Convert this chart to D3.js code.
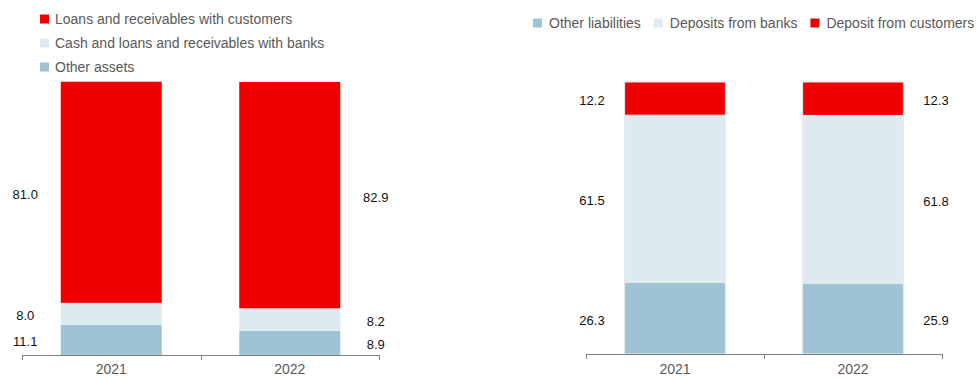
<!DOCTYPE html>
<html>
<head>
<meta charset="utf-8">
<script src="https://cdn.jsdelivr.net/npm/d3@7"></script>
<style>
  html, body { margin: 0; padding: 0; background: #fff; }
  svg { display: block; }
</style>
</head>
<body>
<svg id="chart" width="978" height="378"></svg>
<script>
// ---- Data ----
const years = ["2021", "2022"];

// Assets (left chart), bottom to top
const assetSeries = ["Other assets", "Cash and loans and receivables with banks", "Loans and receivables with customers"];
const otherAssets = [11.1, 8.9];
const cashBanks = [8.0, 8.2];
const loansCustomers = [81.0, 82.9];

// Liabilities (right chart), bottom to top
const liabSeries = ["Other liabilities", "Deposits from banks", "Deposit from customers"];
const otherLiabilities = [26.3, 25.9];
const depositsBanks = [61.5, 61.8];
const depositsCustomers = [12.2, 12.3];

// Legend order as shown
const assetLegend = ["Loans and receivables with customers", "Cash and loans and receivables with banks", "Other assets"];
const liabLegend = ["Other liabilities", "Deposits from banks", "Deposit from customers"];

// ---- Styles ----
const RED = "#ee0000", LIGHT = "#ddebf1", BLUE = "#9dc3d4";
const colorMap = {
  "Other assets": BLUE,
  "Cash and loans and receivables with banks": LIGHT,
  "Loans and receivables with customers": RED,
  "Other liabilities": BLUE,
  "Deposits from banks": LIGHT,
  "Deposit from customers": RED
};
const FONT = "'Liberation Sans', Arial, sans-serif";

const svg = d3.select("#chart");

function drawChart(cfg) {
  const rows = years.map((y, i) => {
    const r = { year: y };
    cfg.series.forEach((s, k) => r[s] = cfg.values[k][i]);
    return r;
  });
  const stack = d3.stack().keys(cfg.series)(rows);

  const x = d3.scaleBand().domain(years).range(cfg.xRange).paddingInner(0.434).paddingOuter(0.217);
  const y = d3.scaleLinear().domain([0, 100]).range([cfg.baseY, 82]);

  const g = svg.append("g");

  // bars
  stack.forEach(layer => {
    g.selectAll(null).data(layer).enter().append("rect")
      .attr("x", d => x(d.data.year))
      .attr("width", x.bandwidth())
      .attr("y", d => y(d[1]))
      .attr("height", d => y(d[0]) - y(d[1]))
      .attr("fill", colorMap[layer.key])
      .attr("stroke", cfg.stroke || "none")
      .attr("stroke-width", cfg.stroke ? 1 : 0);
  });

  // value labels
  stack.forEach(layer => {
    g.selectAll(null).data(layer).enter().append("text")
      .attr("x", (d, i) => x(d.data.year) + x.bandwidth() / 2 + (i === 0 ? -cfg.labelOff : cfg.labelOff))
      .attr("y", d => (y(d[0]) + y(d[1])) / 2 + 2)
      .attr("dy", "0.35em")
      .attr("text-anchor", "middle")
      .attr("font-family", FONT)
      .attr("font-size", 13)
      .attr("fill", "#111")
      .text(d => d3.format(".1f")(d[1] - d[0]));
  });

  // axis
  const [x0, x1] = cfg.xRange;
  const ax = g.append("g").attr("stroke", "#808080").attr("stroke-width", 1);
  ax.append("line").attr("x1", x0).attr("x2", x1).attr("y1", cfg.baseY + 0.5).attr("y2", cfg.baseY + 0.5);
  const tickXs = [x0, (x(years[0]) + x.bandwidth() + x(years[1])) / 2, x1];
  tickXs.forEach(t => {
    ax.append("line").attr("x1", Math.round(t) + 0.5).attr("x2", Math.round(t) + 0.5)
      .attr("y1", cfg.baseY).attr("y2", cfg.baseY + 5);
  });
  g.selectAll(null).data(years).enter().append("text")
    .attr("x", d => x(d) + x.bandwidth() / 2)
    .attr("y", 374)
    .attr("text-anchor", "middle")
    .attr("font-family", FONT)
    .attr("font-size", 14)
    .attr("fill", "#595959")
    .text(d => d);
}

drawChart({
  series: assetSeries,
  values: [otherAssets, cashBanks, loansCustomers],
  xRange: [22, 379],
  baseY: 355,
  labelOff: 86
});

drawChart({
  series: liabSeries,
  values: [otherLiabilities, depositsBanks, depositsCustomers],
  xRange: [586, 942],
  baseY: 354,
  labelOff: 83,
  stroke: "#e3e9ec"
});

// ---- Legends ----
// Left legend: vertical
const legL = svg.append("g");
assetLegend.forEach((s, i) => {
  const cy = 19 + i * 24;
  legL.append("rect").attr("x", 40).attr("y", cy - 4.5).attr("width", 9).attr("height", 9).attr("fill", colorMap[s]);
  legL.append("text").attr("x", 55).attr("y", cy).attr("dy", "0.35em")
    .attr("font-family", FONT).attr("font-size", 14).attr("fill", "#595959").text(s);
});

// Right legend: horizontal
const legR = svg.append("g");
let lx = 533;
liabLegend.forEach((s, i) => {
  const cy = 23;
  legR.append("rect").attr("x", lx).attr("y", cy - 4.5).attr("width", 9).attr("height", 9).attr("fill", colorMap[s]);
  const t = legR.append("text").attr("x", lx + 16).attr("y", cy).attr("dy", "0.35em")
    .attr("font-family", FONT).attr("font-size", 14).attr("fill", "#595959").text(s);
  const w = t.node().getComputedTextLength();
  lx = lx + 16 + w + 13;
});
</script>
</body>
</html>
